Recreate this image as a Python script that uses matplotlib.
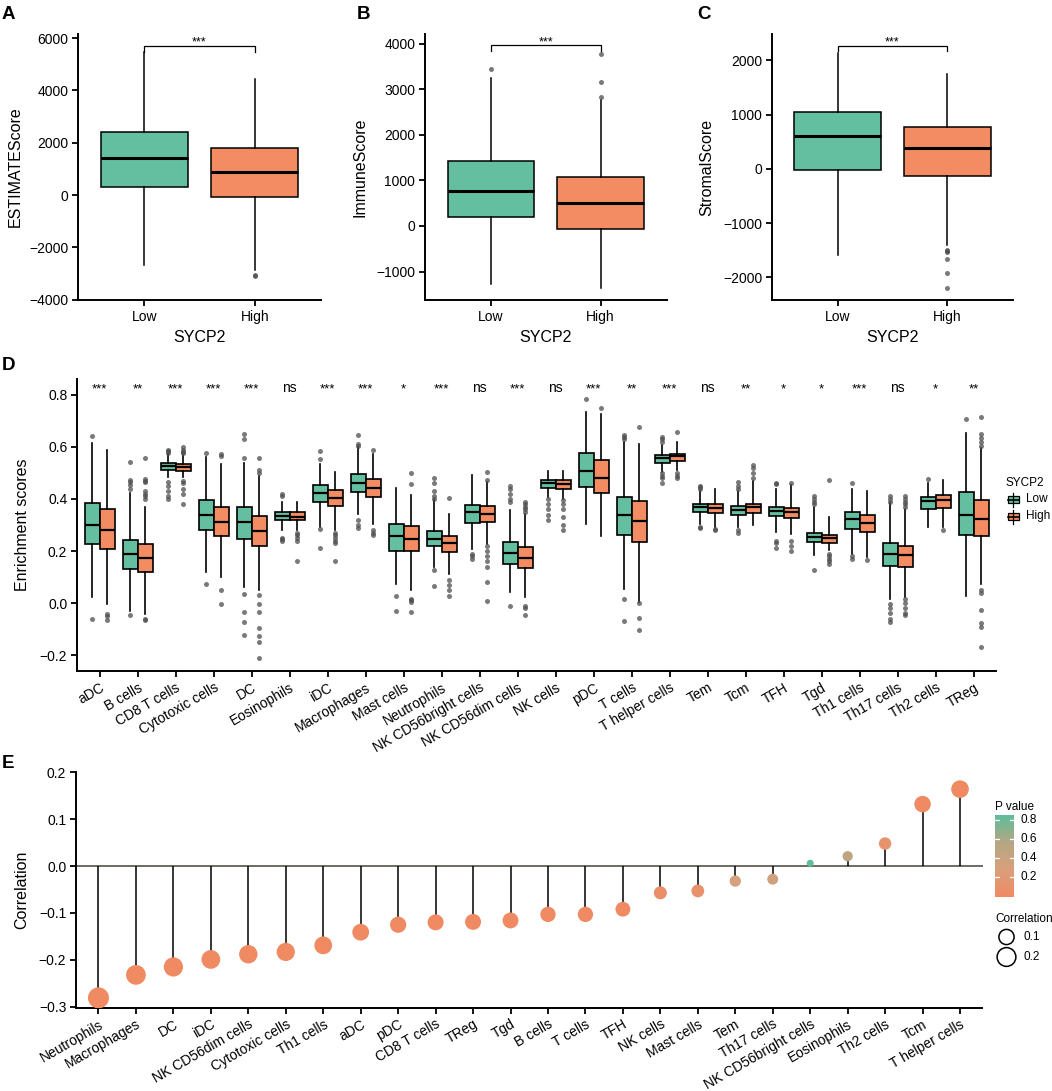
import numpy as np
import matplotlib
matplotlib.use('Agg')
import matplotlib.pyplot as plt
from matplotlib.colors import LinearSegmentedColormap, Normalize
from matplotlib.patches import Rectangle
from matplotlib.transforms import blended_transform_factory

plt.rcParams['font.family'] = ['Liberation Sans', 'DejaVu Sans']

# ------------------------------------------------------------------ data
groups = ['Low', 'High']
group_colors = ['#64BFA0', '#F38C63']

# Panels A-C  (values per group: [Low, High])
score_names = ['ESTIMATEScore', 'ImmuneScore', 'StromalScore']
a_q1 = [305, -61];   a_med = [1427, 878]; a_q3 = [2420, 1810]
a_lo = [-2667, -2857]; a_hi = [5486, 4446]; a_out = [[], [-3050, -3110]]
b_q1 = [205, -58];   b_med = [760, 497];  b_q3 = [1430, 1080]
b_lo = [-1270, -1370]; b_hi = [3250, 2760]; b_out = [[3435], [2830, 3165, 3780]]
c_q1 = [-12, -123];  c_med = [602, 393];  c_q3 = [1045, 774]
c_lo = [-1585, -1401]; c_hi = [2140, 1757]
c_out = [[], [-1493, -1515, -1536, -1658, -1910, -2198]]
abc_sig = ['***', '***', '***']
abc_bracket = [5714, 3970, 2271]
abc_tip = [5486, 3840, 2166]
abc_ylim = [(-4010, 6160), (-1623, 4210), (-2415, 2488)]
abc_yticks = [[-4000, -2000, 0, 2000, 4000, 6000],
              [-1000, 0, 1000, 2000, 3000, 4000],
              [-2000, -1000, 0, 1000, 2000]]

# Panel D
d_cells = ['aDC', 'B cells', 'CD8 T cells', 'Cytotoxic cells', 'DC', 'Eosinophils',
           'iDC', 'Macrophages', 'Mast cells', 'Neutrophils', 'NK CD56bright cells',
           'NK CD56dim cells', 'NK cells', 'pDC', 'T cells', 'T helper cells', 'Tem',
           'Tcm', 'TFH', 'Tgd', 'Th1 cells', 'Th17 cells', 'Th2 cells', 'TReg']
d_sig = ['***', '**', '***', '***', '***', 'ns', '***', '***', '*', '***', 'ns', '***',
         'ns', '***', '**', '***', 'ns', '**', '*', '*', '***', 'ns', '*', '**']

d_low_q1 = [.228, .132, .512, .279, .246, .318, .388, .427, .200, .218, .306, .151,
            .444, .446, .260, .540, .349, .340, .333, .235, .283, .142, .363, .263]
d_low_med = [.301, .187, .528, .337, .312, .335, .423, .463, .258, .245, .349, .194,
             .462, .508, .337, .559, .369, .359, .354, .254, .322, .187, .391, .340]
d_low_q3 = [.385, .244, .540, .397, .369, .350, .453, .495, .305, .277, .378, .235,
            .472, .577, .408, .569, .382, .372, .369, .269, .350, .231, .408, .427]
d_low_lo = [.023, -.031, .485, .119, .062, .282, .292, .344, .074, .138, .209, .042,
            .408, .305, .055, .504, .303, .292, .273, .183, .190, .017, .292, .026]
d_low_hi = [.615, .423, .572, .562, .538, .388, .536, .600, .442, .395, .491, .356,
            .508, .735, .620, .606, .430, .430, .440, .370, .440, .385, .462, .655]
d_low_out = [[.642, -.063], [.44, .455, .465, .472, .544, -.047],
             [.578, .585, .59, .40, .41, .43, .45, .465], [.577, .074],
             [.559, .632, .651, .036, -.033, -.072, -.124], [.41, .42, .24, .245, .25],
             [.555, .585, .285, .213], [.605, .61, .645, .29, .30, .32], [.027, -.032],
             [.40, .41, .43, .46, .481, .126, .065], [.17, .18, .19],
             [.39, .40, .42, .44, .45, -.013], [.32, .34, .36, .38, .40], [.785],
             [.632, .638, .645, .017, -.069], [.62, .63, .64, .46, .48, .49, .50],
             [.44, .445, .45, .292, .288], [.44, .45, .465, .27, .28],
             [.456, .46, .24, .23, .21], [.38, .39, .40, .41, .126], [.462, .17, .18],
             [.39, .40, .41, -.005, -.02, -.04, -.06, -.073], [.478], [.709]]

d_high_q1 = [.206, .119, .509, .258, .219, .318, .372, .408, .200, .195, .312, .136,
             .440, .423, .235, .546, .346, .347, .328, .231, .273, .138, .365, .256]
d_high_med = [.279, .174, .523, .312, .277, .331, .405, .442, .247, .232, .344, .174,
              .459, .482, .314, .564, .367, .369, .350, .250, .309, .183, .397, .322]
d_high_q3 = [.363, .228, .535, .371, .333, .349, .436, .477, .295, .256, .373, .215,
             .472, .551, .391, .574, .382, .382, .367, .263, .340, .219, .414, .395]
d_high_lo = [-.005, -.041, .485, .100, .051, .280, .280, .305, .051, .113, .228, .023,
             .401, .256, .004, .510, .292, .299, .267, .203, .177, .023, .292, .074]
d_high_hi = [.590, .369, .568, .536, .487, .388, .504, .574, .417, .344, .465, .344,
             .508, .725, .613, .619, .440, .470, .453, .331, .431, .360, .472, .595]
d_high_out = [[-.041, -.049, -.064], [.40, .41, .42, .43, .465, .47, .475, .556, -.06, -.065],
              [.575, .58, .59, .60, .38, .42, .44, .46, .47], [.564, .574, .049, -.005],
              [.50, .51, .558, .03, -.003, -.035, -.097, -.127, -.149, -.213],
              [.24, .25, .26, .27, .162], [.23, .24, .25, .26, .27, .16], [.59, .26, .27, .28],
              [.459, .499, .004, .01, .017, -.035], [.404, .09, .07, .05, .026],
              [.472, .504, .14, .16, .18, .20, .22, .081, .008],
              [.35, .36, .37, .38, .39, -.013, -.02, -.047], [.28, .30, .33, .36, .38, .395],
              [.75], [.677, .001, -.059, -.104], [.658, .48, .49, .50], [.282, .285],
              [.48, .50, .52, .53], [.46, .24, .22, .20], [.472, .19, .18, .17, .16, .15],
              [.167], [.37, .38, .39, .40, .41, .017, .0, -.02, -.04, -.047], [.282],
              [.605, .62, .635, .65, .715, .05, .04, -.027, -.078, -.091, -.17]]

# Panel E
e_cells = ['Neutrophils', 'Macrophages', 'DC', 'iDC', 'NK CD56dim cells', 'Cytotoxic cells',
           'Th1 cells', 'aDC', 'pDC', 'CD8 T cells', 'TReg', 'Tgd', 'B cells', 'T cells',
           'TFH', 'NK cells', 'Mast cells', 'Tem', 'Th17 cells', 'NK CD56bright cells',
           'Eosinophils', 'Th2 cells', 'Tcm', 'T helper cells']
e_cor = [-0.281, -0.232, -0.215, -0.199, -0.188, -0.183, -0.169, -0.141, -0.125, -0.120,
         -0.119, -0.116, -0.103, -0.103, -0.092, -0.057, -0.053, -0.032, -0.028, 0.006,
         0.021, 0.048, 0.132, 0.164]
e_p = [1e-12, 1e-9, 1e-8, 1e-7, 1e-7, 1e-6, 1e-5, 1e-4, 1e-4, 2e-4, 2e-4, 3e-4, 1e-3,
       1e-3, 3e-3, 0.07, 0.09, 0.31, 0.37, 0.85, 0.50, 0.13, 1e-4, 1e-5]
e_size_legend = [0.1, 0.2]
e_p_ticks = [0.2, 0.4, 0.6, 0.8]

# ------------------------------------------------------------------ layout helpers
W, H = 1052, 1091
fig = plt.figure(figsize=(W / 100, H / 100), dpi=100)
fig.patch.set_facecolor('white')


def rect(l, t, r, b):
    return [l / W, 1 - b / H, (r - l) / W, (b - t) / H]


def style_axes(ax, tick_fs=10):
    for s in ['top', 'right']:
        ax.spines[s].set_visible(False)
    for s in ['left', 'bottom']:
        ax.spines[s].set_linewidth(1.4)
        ax.spines[s].set_color('black')
    ax.tick_params(axis='both', which='major', length=4, width=1.3, color='black',
                   labelsize=tick_fs, labelcolor='black', pad=3)


def px_fig(x, y):
    return x / W, 1 - y / H


flier_style = dict(marker='o', markersize=3.6, markerfacecolor='#4d4d4d',
                   markeredgecolor='none', alpha=0.75)

# ------------------------------------------------------------------ panels A-C
abc_rects = [(78, 34, 321, 300), (425, 34, 666.5, 300), (772, 34, 1013, 300)]
abc_data = [(a_q1, a_med, a_q3, a_lo, a_hi, a_out),
            (b_q1, b_med, b_q3, b_lo, b_hi, b_out),
            (c_q1, c_med, c_q3, c_lo, c_hi, c_out)]
ylab_x = [15, 360, 707]
for k in range(3):
    ax = fig.add_axes(rect(*abc_rects[k]))
    q1, med, q3, lo, hi, out = abc_data[k]
    stats = [dict(med=med[i], q1=q1[i], q3=q3[i], whislo=lo[i], whishi=hi[i],
                  fliers=out[i]) for i in range(2)]
    bp = ax.bxp(stats, positions=[1, 2], widths=0.79, patch_artist=True, showcaps=False,
                boxprops=dict(linewidth=1.1, edgecolor='black'),
                medianprops=dict(linewidth=2.2, color='black', solid_capstyle='butt'),
                whiskerprops=dict(linewidth=1.1, color='black'),
                flierprops=flier_style)
    for patch, col in zip(bp['boxes'], group_colors):
        patch.set_facecolor(col)
    ax.set_xlim(0.4, 2.6)
    ax.set_ylim(*abc_ylim[k])
    ax.set_yticks(abc_yticks[k])
    ax.set_xticks([1, 2])
    ax.set_xticklabels(groups)
    style_axes(ax)
    # significance bracket
    yb, yt = abc_bracket[k], abc_tip[k]
    ax.plot([1, 1, 2, 2], [yt, yb, yb, yt], color='black', lw=0.9, solid_joinstyle='miter')
    ax.text(1.5, yb, abc_sig[k], ha='center', va='baseline', fontsize=9)
    ax.set_xlabel('SYCP2', fontsize=11.5, labelpad=3)
    ax.set_ylabel(score_names[k], fontsize=11.5, va='center')
    ax.yaxis.set_label_coords(*px_fig(ylab_x[k], 167), transform=fig.transFigure)
    ax.xaxis.set_label_coords(*px_fig((abc_rects[k][0] + abc_rects[k][2]) / 2, 338),
                              transform=fig.transFigure)
    ax.xaxis.label.set_va('center')

# ------------------------------------------------------------------ panel D
axd = fig.add_axes(rect(77, 379, 996.5, 671))
xpos = np.arange(1, len(d_cells) + 1)
for grp, off, col in [(0, -0.2, group_colors[0]), (1, 0.2, group_colors[1])]:
    if grp == 0:
        q1, med, q3, lo, hi, out = d_low_q1, d_low_med, d_low_q3, d_low_lo, d_low_hi, d_low_out
    else:
        q1, med, q3, lo, hi, out = d_high_q1, d_high_med, d_high_q3, d_high_lo, d_high_hi, d_high_out
    stats = [dict(med=med[i], q1=q1[i], q3=q3[i], whislo=lo[i], whishi=hi[i],
                  fliers=out[i]) for i in range(len(d_cells))]
    bp = axd.bxp(stats, positions=xpos + off, widths=0.39, patch_artist=True, showcaps=False,
                 boxprops=dict(linewidth=1.2, edgecolor='black'),
                 medianprops=dict(linewidth=1.6, color='black', solid_capstyle='butt'),
                 whiskerprops=dict(linewidth=1.2, color='black'),
                 flierprops=flier_style, manage_ticks=False)
    for patch in bp['boxes']:
        patch.set_facecolor(col)
for x, s in zip(xpos, d_sig):
    axd.text(x, 0.81, s, ha='center', va='baseline', fontsize=9.5 if s != 'ns' else 10)
axd.set_xlim(0.4, len(d_cells) + 0.6)
axd.set_ylim(-0.2615, 0.8615)
axd.set_yticks([-0.2, 0.0, 0.2, 0.4, 0.6, 0.8])
axd.set_xticks(xpos)
axd.set_xticklabels(d_cells, rotation=30, ha='right', rotation_mode='anchor')
style_axes(axd)
axd.set_ylabel('Enrichment scores', fontsize=11.5, va='center')
axd.yaxis.set_label_coords(*px_fig(23, 525), transform=fig.transFigure)

# ------------------------------------------------------------------ panel E
axe = fig.add_axes(rect(76, 772, 982.5, 1007.5))
cmap = LinearSegmentedColormap.from_list('pv', ['#F08A62', '#D9A07C', '#B5A783', '#5CBD9B'])
pmax = max(e_p)
norm = Normalize(vmin=0, vmax=pmax)
ex = np.arange(1, len(e_cells) + 1)
ecor = np.array(e_cor)
absr = np.abs(ecor)
rmin, rmax = absr.min(), absr.max()


def size_pt2(r):
    d_px = 7 + 14 * np.sqrt(np.clip((np.abs(r) - rmin) / (rmax - rmin), 0, 1))
    return (d_px * 0.72) ** 2


axe.axhline(0, color='#6e6a66', lw=1.4, zorder=1)
axe.vlines(ex, 0, ecor, color='black', lw=1.1, zorder=2)
axe.scatter(ex, ecor, s=size_pt2(ecor), c=np.array(e_p), cmap=cmap, norm=norm,
            edgecolors='none', zorder=3)
axe.set_xlim(0.4, len(e_cells) + 0.6)
axe.set_ylim(-0.3015, 0.2005)
axe.set_yticks([-0.3, -0.2, -0.1, 0.0, 0.1, 0.2])
axe.set_xticks(ex)
axe.set_xticklabels(e_cells, rotation=30, ha='right', rotation_mode='anchor')
style_axes(axe)
axe.set_ylabel('Correlation', fontsize=11.5, va='center')
axe.yaxis.set_label_coords(*px_fig(21.5, 890), transform=fig.transFigure)

# colour bar legend (P value)
cax = fig.add_axes(rect(995, 815, 1014, 896.7))
grad = np.linspace(0, pmax, 256)[:, None]
cax.imshow(grad, aspect='auto', cmap=cmap, norm=norm, origin='lower',
           extent=[0, 1, 0, pmax])
cax.set_xlim(0, 1)
cax.set_ylim(0, pmax)
cax.axis('off')
tr = blended_transform_factory(cax.transAxes, cax.transData)
for v in e_p_ticks:
    cax.plot([0, 0.22], [v, v], color='white', lw=0.9, transform=tr)
    cax.plot([0.78, 1], [v, v], color='white', lw=0.9, transform=tr)
    cax.text(1.35, v, f'{v:.1f}', transform=tr, ha='left', va='center', fontsize=8.5)

# ------------------------------------------------------------------ overlay (labels, legends)
ov = fig.add_axes([0, 0, 1, 1], zorder=10)
ov.set_xlim(0, W)
ov.set_ylim(H, 0)
ov.axis('off')

for lab, x, y in [('A', 2, 19), ('B', 357, 19), ('C', 697, 19), ('D', 2, 370), ('E', 2, 768)]:
    ov.text(x, y, lab, fontsize=13.5, fontweight='bold', ha='left', va='baseline')

# SYCP2 legend of panel D
ov.text(1005, 483, 'SYCP2', fontsize=8.5, ha='left', va='center')
for i, (g, col) in enumerate(zip(groups, group_colors)):
    yc = 499.5 + i * 17
    ov.plot([1013, 1013], [yc - 7, yc + 7], color='black', lw=0.9)
    ov.add_patch(Rectangle((1007.5, yc - 3.8), 11, 7.6, facecolor=col, edgecolor='black', lw=0.9))
    ov.plot([1007.5, 1018.5], [yc, yc], color='black', lw=1.2)
    ov.text(1026, yc, g, fontsize=8.5, ha='left', va='center')

# P value / Correlation legend of panel E
ov.text(995, 807, 'P value', fontsize=8.5, ha='left', va='center')
ov.text(995, 919, 'Correlation', fontsize=8.5, ha='left', va='center')
for i, v in enumerate(e_size_legend):
    yc = 937 + i * 20
    ov.scatter([1006.5], [yc], s=size_pt2(v), facecolors='none', edgecolors='black', lw=1.1)
    ov.text(1023, yc, f'{v:.1f}', fontsize=8.5, ha='left', va='center')

fig.savefig('out.png', dpi=100, facecolor='white')
